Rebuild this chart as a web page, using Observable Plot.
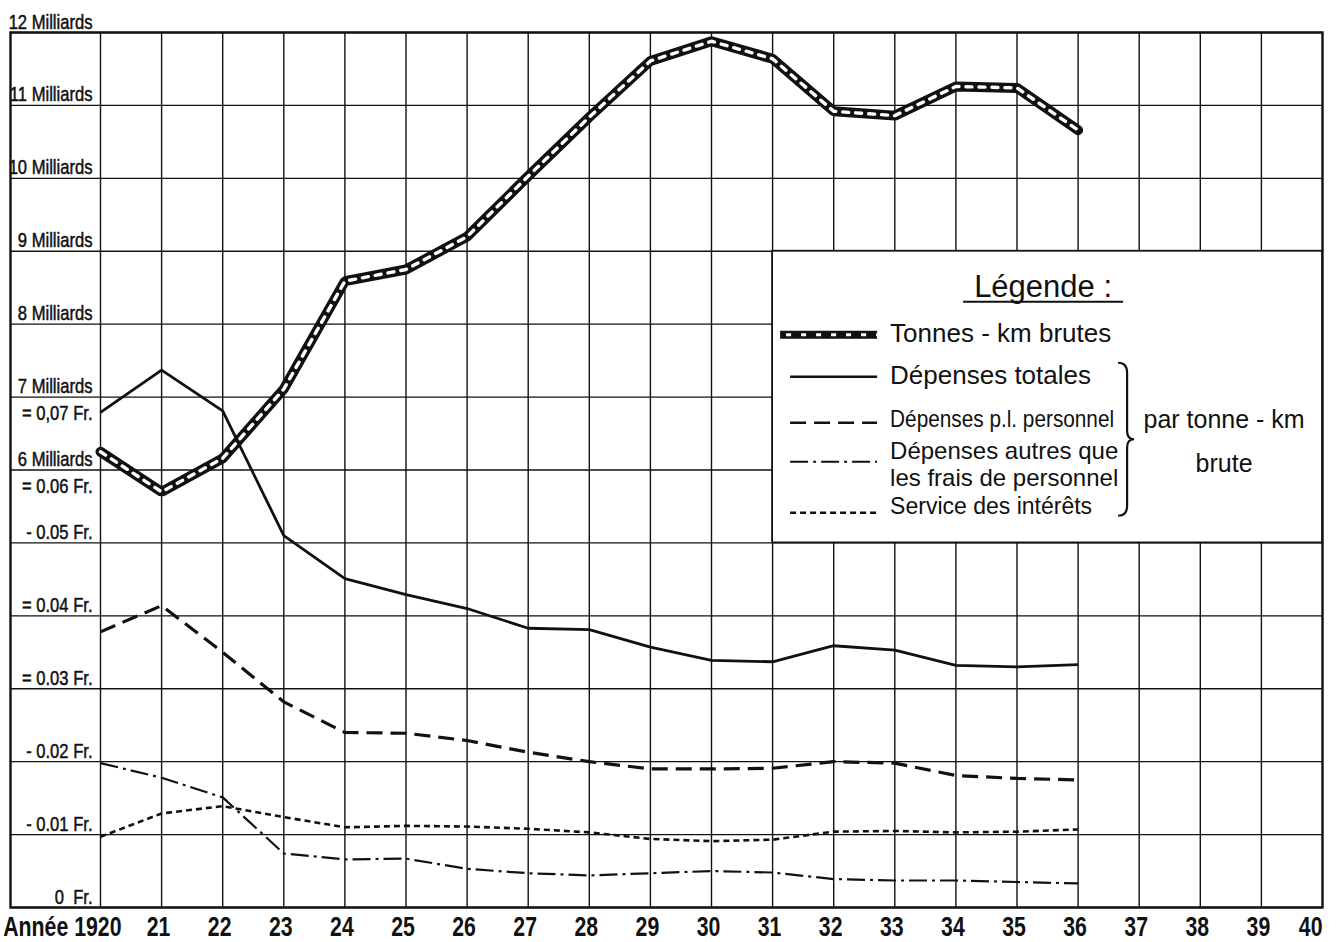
<!DOCTYPE html>
<html><head><meta charset="utf-8">
<script src="https://cdn.jsdelivr.net/npm/d3@7"></script>
<script src="https://cdn.jsdelivr.net/npm/@observablehq/plot@0.6"></script>
<style>
html,body{margin:0;padding:0;background:#fff;}
#chart svg{display:block;}
</style></head><body><div id="chart"></div>
<script>
// ---------- data ----------
const years = [1920,1921,1922,1923,1924,1925,1926,1927,1928,1929,1930,1931,1932,1933,1934,1935,1936];
// Tonnes-km brutes (milliards)
const tonnesKm = [6.25,5.70,6.16,7.11,8.59,8.75,9.20,10.03,10.84,11.61,11.88,11.64,10.92,10.86,11.26,11.24,10.66];
// Dépenses par tonne-km brute (Fr.)
const depensesTotales   = [0.0679,0.0737,0.0681,0.0510,0.0451,0.0429,0.0410,0.0383,0.0381,0.0357,0.0339,0.0337,0.0359,0.0353,0.0332,0.0330,0.0333];
const depensesPersonnel = [0.0378,0.0414,0.0350,0.0282,0.0240,0.0239,0.0229,0.0213,0.0200,0.0190,0.0190,0.0191,0.0200,0.0198,0.0181,0.0177,0.0175];
const depensesAutres    = [0.0198,0.0178,0.0151,0.0074,0.0066,0.0067,0.0053,0.0047,0.0044,0.0047,0.0050,0.0048,0.0039,0.0037,0.0037,0.0035,0.0033];
const serviceInterets   = [0.0097,0.0129,0.0139,0.0124,0.0110,0.0112,0.0111,0.0108,0.0103,0.0094,0.0091,0.0093,0.0104,0.0105,0.0103,0.0104,0.0107];

const axisYears  = [1920,1921,1922,1923,1924,1925,1926,1927,1928,1929,1930,1931,1932,1933,1934,1935,1936,1937,1938,1939,1940];
const yearLabels = ["Année 1920","21","22","23","24","25","26","27","28","29","30","31","32","33","34","35","36","37","38","39","40"];
const milliardsTicks  = [6,7,8,9,10,11,12];
const milliardsLabels = ["6 Milliards","7 Milliards","8 Milliards","9 Milliards","10 Milliards","11 Milliards","12 Milliards"];
const francTicks  = [0,0.01,0.02,0.03,0.04,0.05,0.06,0.07];
const francLabels = ["0  Fr.","- 0.01 Fr.","- 0.02 Fr.","= 0.03 Fr.","= 0.04 Fr.","- 0.05 Fr.","= 0.06 Fr.","= 0,07 Fr."];
const gridUnits = [0,1,2,3,4,5,6,7,8,9,10,11,12];

const legendTitle = "Légende :";
const legendNames = ["Tonnes - km brutes","Dépenses totales","Dépenses p.l. personnel","Dépenses autres que|les frais de personnel","Service des intérêts"];
const legendSide = ["par tonne - km","brute"];

// ---------- tables ----------
const tonnesData = years.map((y,i)=>({year:y, v:tonnesKm[i]}));
const frSeries = [
  {key:"tot", vals:depensesTotales, w:2.8, dash:null},
  {key:"pers", vals:depensesPersonnel, w:3.2, dash:"16,8"},
  {key:"aut", vals:depensesAutres, w:2.2, dash:"18,5,3,5"},
  {key:"int", vals:serviceInterets, w:2.6, dash:"6,4"}
];
const FR = 100; // 0.01 Fr. == 1 Milliard on the shared grid

const W = 1342, H = 942;
const mL = 10, mR = 20, mT = 32, mB = 35;
const colW = (W - mR - 100) / 20;          // width of one year
const x0 = 1920 - (100 - mL) / colW;        // label column on the left

const sans = "'Liberation Sans',Arial,sans-serif";

const marks = [
  Plot.ruleY(gridUnits, {stroke:"#111", strokeWidth:1.4}),
  Plot.ruleX(axisYears.slice(0,20), {y1:0, y2:12, stroke:"#111", strokeWidth:1.4}),
  Plot.frame({stroke:"#111", strokeWidth:2.4}),
  // legend box
  Plot.rect([{a:1931,b:1940,c:5,d:9}], {x1:"a", x2:"b", y1:"c", y2:"d", fill:"#fff", stroke:"#111", strokeWidth:1.8}),
  // tonnes-km
  Plot.line(tonnesData, {x:"year", y:"v", stroke:"#111", strokeWidth:10, strokeLinejoin:"miter"}),
  Plot.line(tonnesData, {x:"year", y:"v", stroke:"#fff", strokeWidth:3.4, strokeDasharray:"6,7"}),
];
for (const s of frSeries) {
  marks.push(Plot.line(years.map((y,i)=>({year:y, v:s.vals[i]})), {
    x:"year", y:d=>d.v*FR, stroke:"#111", strokeWidth:s.w,
    strokeDasharray:s.dash, strokeLinejoin:"miter", strokeLinecap:"butt"
  }));
}
// y labels
const ylabOpts = {x:()=>1920, y:"k", text:"t", dx:-8, textAnchor:"end", lineAnchor:"bottom",
  fontFamily:sans, fontSize:20, fill:"#111", stroke:"#111", strokeWidth:0.5};
marks.push(Plot.text(milliardsTicks.map((k,i)=>({k, t:milliardsLabels[i]})), {...ylabOpts, dy:-4}));
const frRows = francTicks.map((v,i)=>({k:v*FR, t:francLabels[i]}));
marks.push(Plot.text(frRows.filter(d=>d.k<=5.5), {...ylabOpts, dy:-4}));
marks.push(Plot.text(frRows.filter(d=>d.k>5.5), {...ylabOpts, dy:23}));
// x labels
const xl = axisYears.map((y,i)=>({y, t:yearLabels[i]}));
const xlabOpts = {x:"y", y:()=>0, text:"t", dy:28, lineAnchor:"bottom", fontFamily:sans, fontSize:28,
  fontWeight:"bold", fill:"#111"};
marks.push(Plot.text(xl.slice(0,1), {...xlabOpts, dx:21, textAnchor:"end"}));
marks.push(Plot.text(xl.slice(1,20), {...xlabOpts, dx:-3, textAnchor:"middle"}));
marks.push(Plot.text(xl.slice(20), {...xlabOpts, dx:0, textAnchor:"end"}));

const plot = Plot.plot({
  width:W, height:H, marginLeft:mL, marginRight:mR, marginTop:mT, marginBottom:mB,
  style:{background:"#fff", overflow:"visible"},
  x:{domain:[x0,1940], axis:null},
  y:{domain:[0,12], axis:null},
  marks
});
document.getElementById("chart").appendChild(plot);

const svg = d3.select(plot);
// condensed lettering: horizontal squeeze around each text's anchor
const ySet = new Set([...milliardsLabels, ...francLabels]);
const xSet = new Set(yearLabels);
function squeeze(set, s) {
  plot.querySelectorAll("text").forEach(el => {
    if (!set.has(el.textContent)) return;
    const t = el.getAttribute("transform") || "";
    const x = +(el.getAttribute("x") || 0);
    el.setAttribute("transform", `${t} translate(${x},0) scale(${s},1) translate(${-x},0)`);
  });
}
squeeze(ySet, 0.83);
squeeze(xSet, 0.76);

// ---------- legend (inside the white box) ----------
const X = v => plot.scale("x").apply(v), Y = v => plot.scale("y").apply(v);
const bx = X(1931), by = Y(9);            // top-left of legend box
const g = svg.append("g").attr("fill","#111").attr("font-family",sans).attr("text-anchor","start");
g.append("text").attr("x", bx+271).attr("y", by+46).attr("text-anchor","middle")
  .attr("font-size",31).text(legendTitle);
g.append("line").attr("x1",bx+191).attr("x2",bx+351).attr("y1",by+51).attr("y2",by+51)
  .attr("stroke","#111").attr("stroke-width",2.2);

const sx1 = bx+18, sx2 = bx+105;
const rowsY = [84, 126, 172, 211, 262];
// samples
g.append("line").attr("x1",bx+8).attr("x2",sx2).attr("y1",by+rowsY[0]).attr("y2",by+rowsY[0]).attr("stroke","#111").attr("stroke-width",8);
g.append("line").attr("x1",bx+14).attr("x2",sx2).attr("y1",by+rowsY[0]).attr("y2",by+rowsY[0]).attr("stroke","#fff").attr("stroke-width",3).attr("stroke-dasharray","5,10");
frSeries.forEach((s,i)=>{
  g.append("line").attr("x1",sx1).attr("x2",sx2).attr("y1",by+rowsY[i+1]).attr("y2",by+rowsY[i+1])
   .attr("stroke","#111").attr("stroke-width",Math.min(s.w,2.6)).attr("stroke-dasharray",s.dash);
});
// labels
const tx = bx+118;
g.append("text").attr("x",tx).attr("y",by+91).attr("font-size",26).text(legendNames[0]);
g.append("text").attr("x",tx).attr("y",by+133).attr("font-size",26).text(legendNames[1]);
g.append("text").attr("x",tx).attr("y",by+176).attr("font-size",24)
  .attr("textLength",224).attr("lengthAdjust","spacingAndGlyphs").text(legendNames[2]);
const two = legendNames[3].split("|");
g.append("text").attr("x",tx).attr("y",by+208).attr("font-size",24).text(two[0]);
g.append("text").attr("x",tx).attr("y",by+235).attr("font-size",24).text(two[1]);
g.append("text").attr("x",tx).attr("y",by+263).attr("font-size",23).text(legendNames[4]);
// brace
const bxr = bx+355, t0 = by+112, t1 = by+265, tm = (t0+t1)/2;
g.append("path").attr("fill","none").attr("stroke","#111").attr("stroke-width",2.2)
  .attr("d",`M${bxr-9},${t0} Q${bxr},${t0} ${bxr},${t0+10} L${bxr},${tm-8} Q${bxr},${tm} ${bxr+7},${tm} Q${bxr},${tm} ${bxr},${tm+8} L${bxr},${t1-10} Q${bxr},${t1} ${bxr-9},${t1}`);
g.append("text").attr("x",bx+452).attr("y",by+177).attr("text-anchor","middle").attr("font-size",25).text(legendSide[0]);
g.append("text").attr("x",bx+452).attr("y",by+221).attr("text-anchor","middle").attr("font-size",25).text(legendSide[1]);
</script>
</body></html>
